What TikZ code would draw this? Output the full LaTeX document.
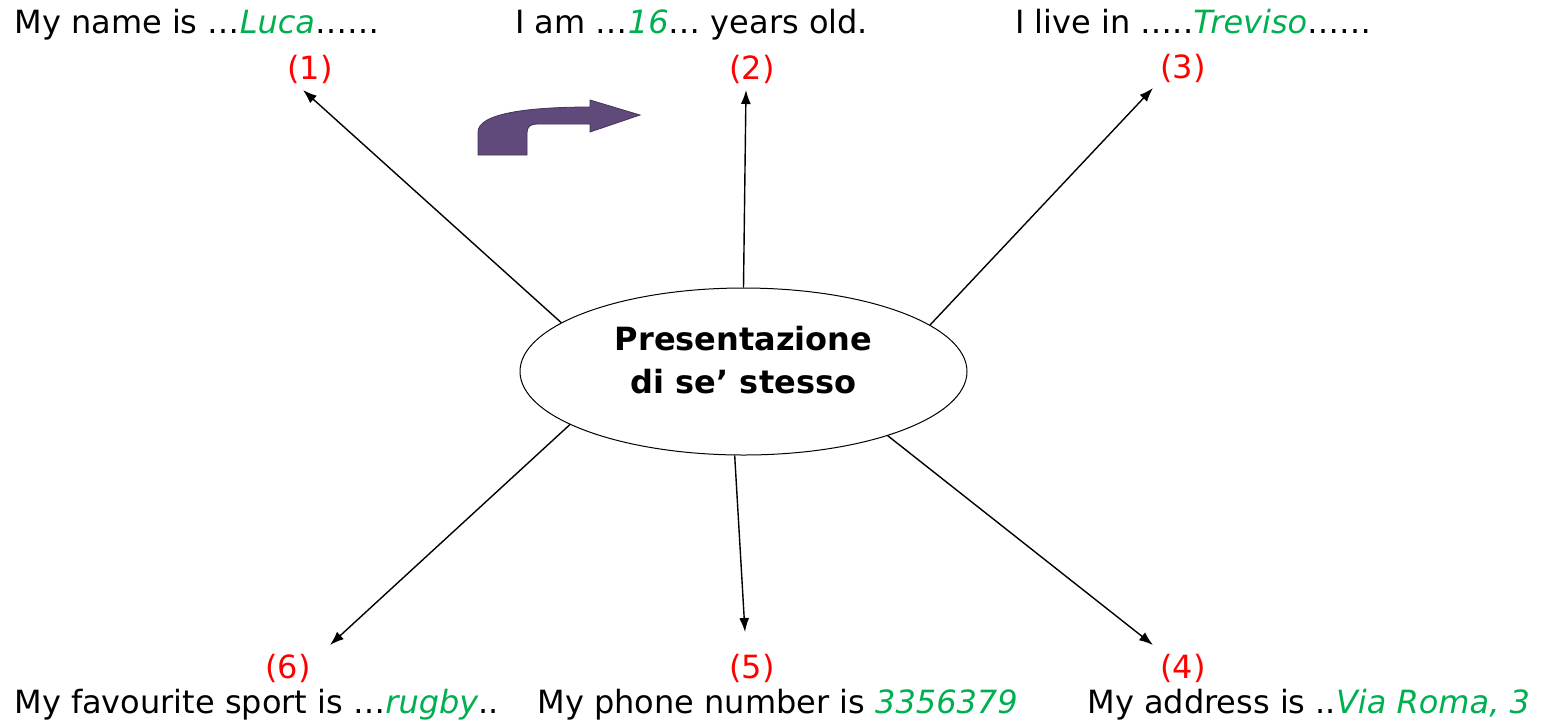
\documentclass[tikz,border=0pt]{standalone}
\usepackage{xcolor}
\usepackage{fontspec}
\setmainfont{DejaVu Sans}
\usepackage{tikz}
\usetikzlibrary{arrows.meta,shapes.geometric,positioning,calc}

\definecolor{fillgreen}{RGB}{0,176,80}
\definecolor{numred}{RGB}{255,0,0}
\definecolor{bendpurple}{RGB}{96,74,123}

\tikzset{
  sentence/.style={font=\fontsize{16}{19}\selectfont, inner sep=0pt, anchor=base west},
  number/.style={font=\fontsize{16}{19}\selectfont, text=numred, inner sep=0pt, anchor=base},
  link/.style={draw=black, line width=0.7pt, -{Latex[length=7pt,width=5pt]}}
}
\newcommand{\ans}[1]{\textcolor{fillgreen}{\textit{#1}}}

\begin{document}
\begin{tikzpicture}[x=0.5pt,y=-0.5pt]

\useasboundingbox (0,0) rectangle (1558,725);

\node[ellipse, draw=black, line width=0.5pt, minimum width=447*0.5pt, minimum height=167*0.5pt, align=center,
  text depth=12pt, font=\fontsize{16}{21.5}\selectfont\bfseries] (pres) at (743.5,371.5) {Presentazione\\di se’ stesso};

\node[sentence] (nome) at (14,33) {My name is …\ans{Luca}……};
\node[sentence] (eta) at (515,33) {I am …\ans{16}… years old.};
\node[sentence] (citta) at (1015,33) {I live in …..\ans{Treviso}……};
\node[sentence] (sport) at (14,713) {My favourite sport is …\ans{rugby}..};
\node[sentence] (telefono) at (537,713) {My phone number is \ans{3356379}};
\node[sentence] (indirizzo) at (1087,713) {My address is ..\ans{Via Roma, 3}};

\node[number] (n1) at (310,79) {(1)};
\node[number] (n2) at (752,79) {(2)};
\node[number] (n3) at (1183,78) {(3)};
\node[number] (n4) at (1183,678) {(4)};
\node[number] (n5) at (752,678) {(5)};
\node[number] (n6) at (288,678) {(6)};

\coordinate (t1) at (303,90);
\coordinate (t2) at (746,90);
\coordinate (t3) at (1153,88);
\coordinate (t4) at (1153,645);
\coordinate (t5) at (745,632);
\coordinate (t6) at (330,645);

\draw[link] (pres.165.6) -- (t1);
\draw[link] (pres.90.5) -- (t2);
\draw[link] (pres.14.8) -- (t3);
\draw[link] (pres.336.8) -- (t4);
\draw[link] (pres.264) -- (t5);
\draw[link] (pres.197) -- (t6);

\fill[bendpurple, draw=bendpurple!70!black, line width=0.4pt]
  (478,155) -- (478,132) .. controls (478,114) and (525,107) .. (590,107)
  -- (590,100) -- (640,115) -- (590,132) -- (590,124) -- (537,124)
  .. controls (530,124) and (527,127) .. (527,133) -- (527,155) -- cycle;

\end{tikzpicture}
\end{document}
